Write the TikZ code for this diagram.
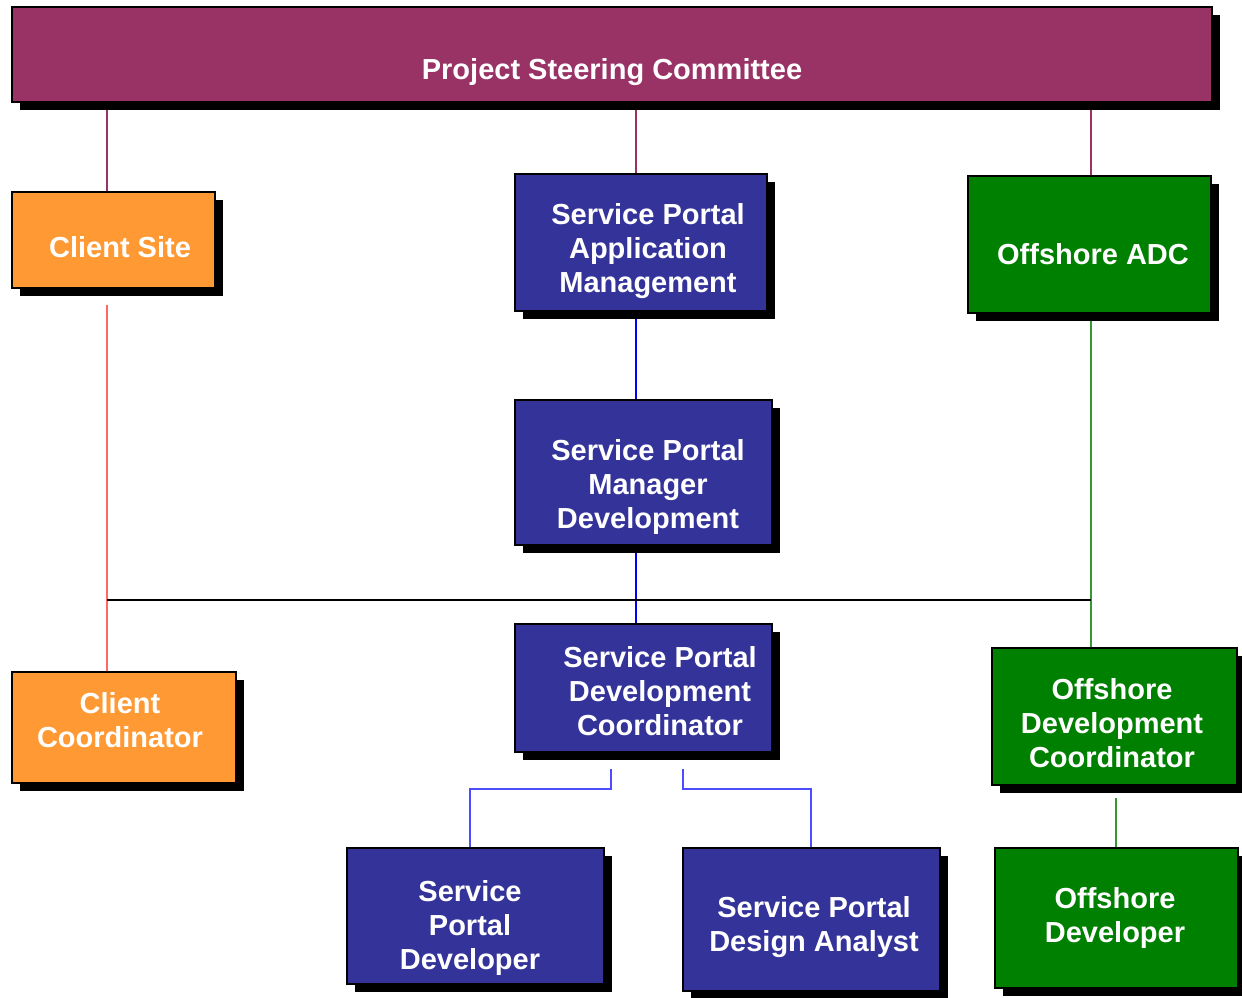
\documentclass[tikz,border=0pt]{standalone}
\usepackage{fontspec}
\setmainfont{Liberation Sans}
\usetikzlibrary{shadows,backgrounds}

\definecolor{steer}{HTML}{993366}
\definecolor{client}{HTML}{FF9933}
\definecolor{portal}{HTML}{333399}
\definecolor{offshore}{HTML}{008000}
\definecolor{forkblue}{HTML}{4D4DFF}
\definecolor{linkgreen}{HTML}{339933}

\tikzset{
  box/.style={draw=black, line width=1pt, inner sep=0pt,
    drop shadow={shadow xshift=4pt, shadow yshift=-4pt, opacity=1, fill=black}},
  txt/.style={text=white, font=\bfseries\fontsize{14.5pt}{17pt}\selectfont, align=center},
  link/.style={line width=0.6pt}
}

\begin{document}
\begin{tikzpicture}[x=0.5pt,y=-0.5pt]
    \useasboundingbox (0,0) rectangle (1242,997);

    % boxes
    \node[box, fill=steer, minimum width=600pt, minimum height=47.5pt] (psc) at (612,54.5) {};
    \node[box, fill=client, minimum width=101.5pt, minimum height=48pt] (csite) at (113.5,240) {};
    \node[box, fill=portal, minimum width=126pt, minimum height=68.5pt] (spam) at (641,242.5) {};
    \node[box, fill=offshore, minimum width=121.5pt, minimum height=68.5pt] (adc) at (1089.5,244.5) {};
    \node[box, fill=portal, minimum width=128.5pt, minimum height=72.5pt] (spmd) at (643.5,472.5) {};
    \node[box, fill=portal, minimum width=128.5pt, minimum height=64pt] (spdc) at (643.5,688) {};
    \node[box, fill=client, minimum width=112pt, minimum height=55.5pt] (ccoord) at (124,727.5) {};
    \node[box, fill=offshore, minimum width=122.5pt, minimum height=68.5pt] (odc) at (1114.5,716.5) {};
    \node[box, fill=portal, minimum width=128.5pt, minimum height=68pt] (spd) at (475.5,916) {};
    \node[box, fill=portal, minimum width=128.5pt, minimum height=71.5pt] (spda) at (811,919.5) {};
    \node[box, fill=offshore, minimum width=121.5pt, minimum height=70pt] (od) at (1116,918) {};

    % texts
    \node[txt] (psc-t) at (612,72) {Project Steering Committee};
    \node[txt] (csite-t) at (120,247) {Client Site};
    \node[txt] (spam-t) at (648,251) {Service Portal\\Application\\Management};
    \node[txt] (adc-t) at (1093,254) {Offshore ADC};
    \node[txt] (spmd-t) at (648,487) {Service Portal\\Manager\\Development};
    \node[txt] (spdc-t) at (660,691.5) {Service Portal\\Development\\Coordinator};
    \node[txt] (ccoord-t) at (120,720.5) {Client\\Coordinator};
    \node[txt] (odc-t) at (1112,723.5) {Offshore\\Development\\Coordinator};
    \node[txt] (spd-t) at (470,928) {Service\\Portal\\Developer};
    \node[txt] (spda-t) at (814,927.5) {Service Portal\\Design Analyst};
    \node[txt] (od-t) at (1115,918) {Offshore\\Developer};

    \coordinate (bus-l) at (107,600);
    \coordinate (bus-m) at (636,600);
    \coordinate (bus-r) at (1091,600);
    \coordinate (fork-l) at (611,789);
    \coordinate (fork-r) at (683,789);

    % connectors
    \begin{pgfonlayer}{background}
        \draw[link, steer] (psc.south -| bus-l) -- (csite.north -| bus-l);
        \draw[link, steer] (psc.south -| bus-m) -- (spam.north -| bus-m);
        \draw[link, steer] (psc.south -| bus-r) -- (adc.north -| bus-r);
        \draw[link, red!60] ([yshift=-8pt]csite.south -| bus-l) -- (ccoord.north -| bus-l);
        \draw[link, blue] (spam.south -| bus-m) -- ([yshift=-4pt]spmd.north -| bus-m);
        \draw[link, blue] (spmd.south -| bus-m) -- (spdc.north -| bus-m);
        \draw[link, linkgreen] (adc.south -| bus-r) -- (odc.north -| bus-r);
        \draw[line width=0.8pt] (bus-l) -- (bus-r);
        \draw[link, forkblue] ([yshift=-8pt]spdc.south -| fork-l) -- (fork-l) -| (spd-t |- spd.north);
        \draw[link, forkblue] ([yshift=-8pt]spdc.south -| fork-r) -- (fork-r) -| (spda.north);
        \draw[link, linkgreen] ([yshift=-6pt]odc.south -| od.north) -- (od.north);
    \end{pgfonlayer}
\end{tikzpicture}
\end{document}
